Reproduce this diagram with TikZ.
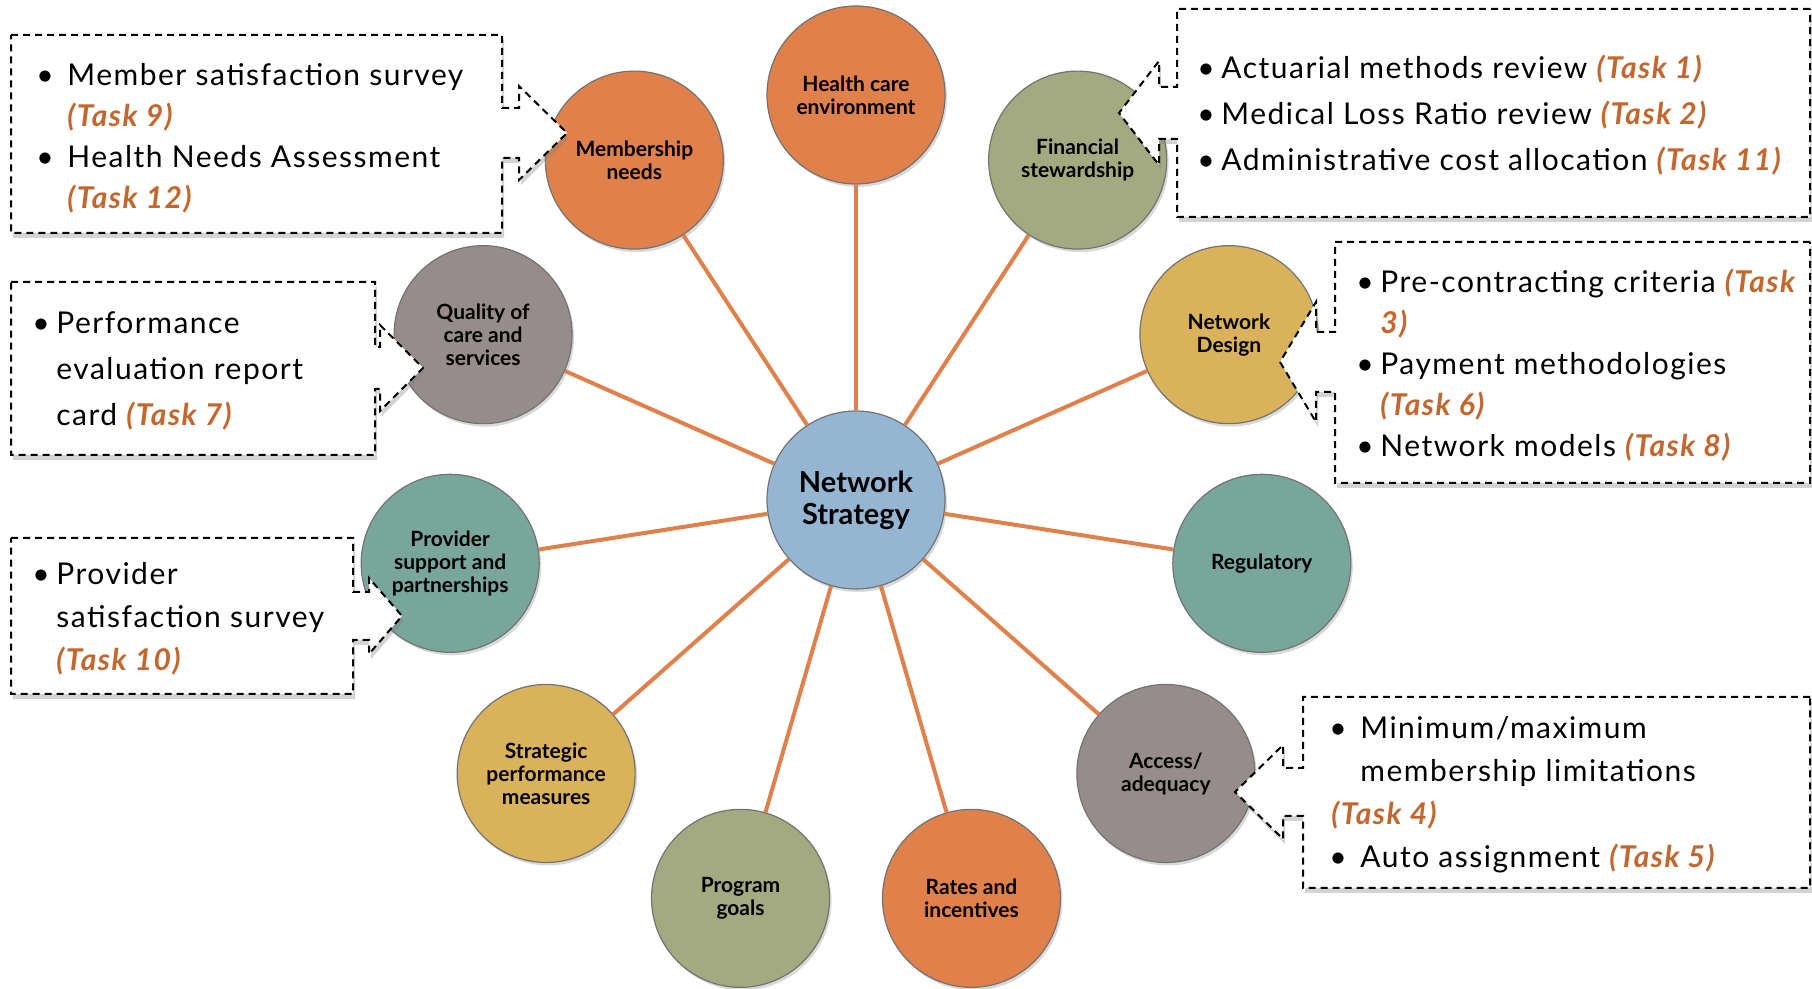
\documentclass[tikz,border=0pt]{standalone}
\usepackage{fontspec}
\setmainfont{Lato}
\newfontfamily\boxfont{Lato}[LetterSpace=5]
\usetikzlibrary{calc,shadows}
\definecolor{ringorange}{HTML}{E0804A}
\definecolor{ringolive}{HTML}{A3AA80}
\definecolor{ringgold}{HTML}{DAB25C}
\definecolor{ringteal}{HTML}{79A69A}
\definecolor{ringmauve}{HTML}{978C8C}
\definecolor{hubblue}{HTML}{95B6D3}
\definecolor{taskorange}{HTML}{C4672F}
\newcommand{\tasktag}[1]{{\color{taskorange}\bfseries\itshape #1}}
\newcommand{\bul}[1]{\makebox[#1][l]{\textbullet}}
\def\callout(#1,#2,#3,#4)(#5,#6,#7,#8,#9){\draw[callbox] (#1,#3) -- (#2,#3) -- (#2,{#7+#8}) -- (#5,{#7+#8}) -- (#5,{#7+#9}) -- (#6,#7) -- (#5,{#7-#9}) -- (#5,{#7-#8}) -- (#2,{#7-#8}) -- (#2,#4) -- (#1,#4) -- cycle;}

\begin{document}
\begin{tikzpicture}[x=0.5pt, y=0.5pt,
		topic/.style={circle, draw=black!55, line width=0.6pt, minimum size=89pt, inner sep=0pt, align=center,
			font=\bfseries\fontsize{10.5}{11.5}\selectfont,
			drop shadow={shadow xshift=1pt, shadow yshift=-1.5pt, opacity=0.3}},
		hubnode/.style={topic, fill=hubblue, font=\bfseries\fontsize{14.5}{16}\selectfont},
		spokeline/.style={draw=ringorange, line width=2pt},
		callbox/.style={draw=black, dash pattern=on 3.5pt off 2.5pt, line width=1pt, fill=white,
			drop shadow={shadow xshift=1pt, shadow yshift=-2.5pt, opacity=0.35}},
		boxtext/.style={anchor=west, inner sep=0pt, align=left}]
		%%%%% START %%%%%
		
		\useasboundingbox (0,0) rectangle (1812,989);
		
		\node[hubnode] (hub) at (856,489) {Network\\Strategy};
		
		\foreach \nm/\ang/\col/\txt in {
			health/90/ringorange/{Health care\\environment},
			finance/57.27/ringolive/{Financial\\stewardship},
			design/24.55/ringgold/{Network\\Design},
			regul/-8.18/ringteal/{Regulatory},
			access/-40.91/ringmauve/{Access/\\adequacy},
			rates/-73.64/ringorange/{Rates and\\incentives},
			program/-106.36/ringolive/{Program\\goals},
			strategic/-139.09/ringgold/{Strategic\\performance\\measures},
			provider/-171.82/ringteal/{Provider\\support and\\partnerships},
			quality/155.45/ringmauve/{Quality of\\care and\\services},
			member/122.73/ringorange/{Membership\\needs}}
			\node[topic, fill=\col] (\nm) at ({856+410*cos(\ang)},{484+410*sin(\ang)}) {\txt};
		
		\foreach \nm in {health,finance,design,regul,access,rates,program,strategic,provider,quality,member}
			\draw[spokeline] (hub) -- (\nm);
		
		% callouts, left side
		\callout(11,502,954,756)(519,567,856,25,47);
		\callout(11,375,707,534)(380,423,621,21,43);
		\callout(11,353,451,295)(369,402,373,24,38);
		
		% callouts, right side
		\callout(1810,1177,980,772)(1159,1119,876,26,52);
		\callout(1810,1335,747,506)(1316,1280,627,30,60);
		\callout(1810,1303,292,101)(1283,1235,197,24,47);
		
		\node[boxtext, font=\boxfont\fontsize{15}{20.5}\selectfont] (membertext) at (36,851)
			{\bul{15.5pt}Member satisfaction survey\\
			\hspace*{15.5pt}\tasktag{(Task 9)}\\
			\bul{15.5pt}Health Needs Assessment\\
			\hspace*{15.5pt}\tasktag{(Task 12)}};
		
		\node[boxtext, font=\boxfont\fontsize{15}{23}\selectfont] (qualitytext) at (32,618)
			{\bul{12pt}Performance\\
			\hspace*{12pt}evaluation report\\
			\hspace*{12pt}card \tasktag{(Task 7)}};
		
		\node[boxtext, font=\boxfont\fontsize{15}{21.5}\selectfont] (providertext) at (32,370)
			{\bul{12pt}Provider\\
			\hspace*{12pt}satisfaction survey\\
			\hspace*{12pt}\tasktag{(Task 10)}};
		
		\node[boxtext, font=\boxfont\fontsize{15}{23}\selectfont] (financetext) at (1197,874)
			{\bul{12pt}Actuarial methods review \tasktag{(Task 1)}\\
			\bul{12pt}Medical Loss Ratio review \tasktag{(Task 2)}\\
			\bul{12pt}Administrative cost allocation \tasktag{(Task 11)}};
		
		\node[boxtext, font=\boxfont\fontsize{15}{20.5}\selectfont] (designtext) at (1356,624)
			{\bul{12pt}Pre-contracting criteria \tasktag{(Task}\\
			\hspace*{12pt}\tasktag{3)}\\
			\bul{12pt}Payment methodologies\\
			\hspace*{12pt}\tasktag{(Task 6)}\\
			\bul{12pt}Network models \tasktag{(Task 8)}};
		
		\node[boxtext, font=\boxfont\fontsize{15}{21.5}\selectfont] (accesstext) at (1329,194)
			{\bul{15.5pt}Minimum/maximum\\
			\hspace*{15.5pt}membership limitations\\
			\hspace*{1pt}\tasktag{(Task 4)}\\
			\bul{15.5pt}Auto assignment \tasktag{(Task 5)}};
		
		%%%%% END %%%%%
	\end{tikzpicture}
\end{document}
